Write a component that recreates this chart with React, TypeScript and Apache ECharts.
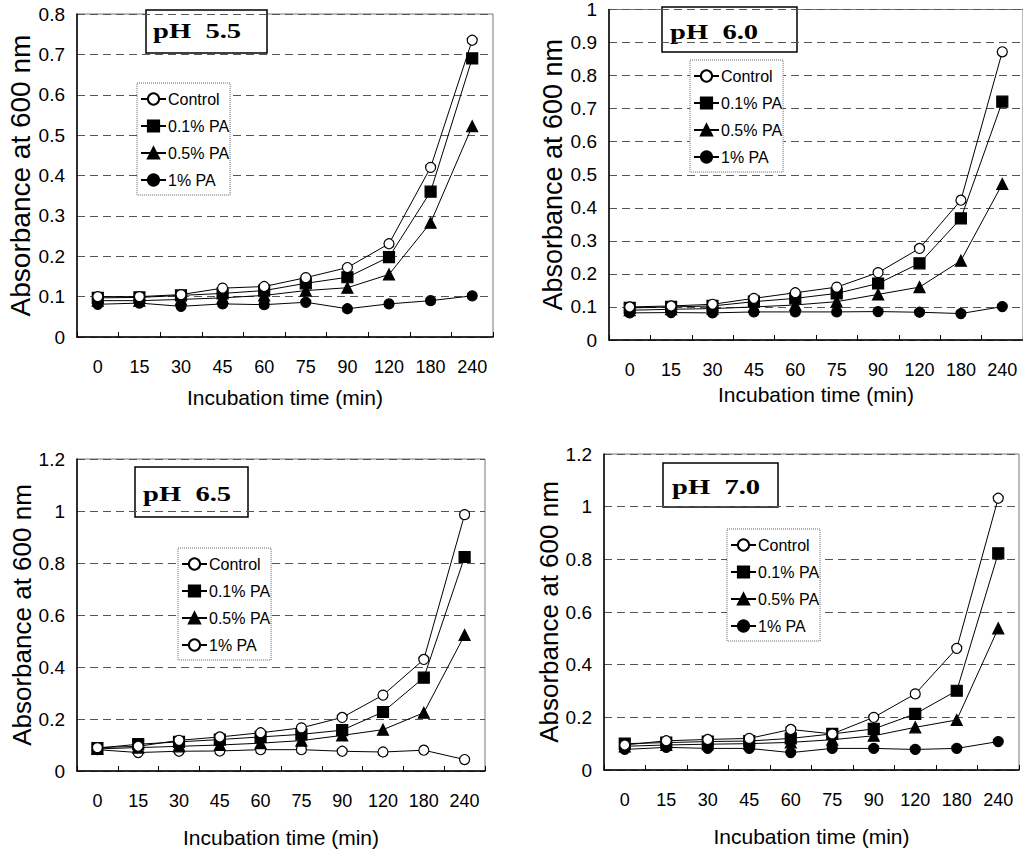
import React, { useEffect, useRef } from 'react';
import * as echarts from 'echarts';

const categories = ['0', '15', '30', '45', '60', '75', '90', '120', '180', '240'];
const seriesLabels = ['Control', '0.1% PA', '0.5% PA', '1% PA'];
const panelTitles = ['pH  5.5', 'pH  6.0', 'pH  6.5', 'pH  7.0'];
const yMax = [0.8, 1, 1.2, 1.2];
const yStep = [0.1, 0.1, 0.2, 0.2];

// pH 5.5
const ph55Control = [0.1, 0.1, 0.105, 0.121, 0.125, 0.147, 0.172, 0.231, 0.42, 0.735];
const ph55Pa01 = [0.097, 0.098, 0.103, 0.108, 0.115, 0.133, 0.148, 0.198, 0.36, 0.69];
const ph55Pa05 = [0.09, 0.09, 0.093, 0.097, 0.103, 0.115, 0.122, 0.155, 0.283, 0.522];
const ph55Pa1 = [0.081, 0.084, 0.076, 0.082, 0.08, 0.086, 0.07, 0.082, 0.09, 0.102];

// pH 6.0
const ph60Control = [0.1, 0.103, 0.108, 0.126, 0.143, 0.16, 0.204, 0.277, 0.423, 0.872];
const ph60Pa01 = [0.097, 0.1, 0.103, 0.116, 0.126, 0.141, 0.171, 0.232, 0.368, 0.721];
const ph60Pa05 = [0.09, 0.093, 0.095, 0.1, 0.106, 0.116, 0.138, 0.16, 0.24, 0.472];
const ph60Pa1 = [0.082, 0.083, 0.082, 0.085, 0.085, 0.085, 0.086, 0.084, 0.08, 0.101];

// pH 6.5
const ph65Control = [0.09, 0.095, 0.118, 0.131, 0.147, 0.166, 0.206, 0.292, 0.429, 0.986];
const ph65Pa01 = [0.088, 0.103, 0.112, 0.121, 0.131, 0.141, 0.157, 0.227, 0.359, 0.823];
const ph65Pa05 = [0.085, 0.09, 0.095, 0.1, 0.107, 0.117, 0.137, 0.159, 0.224, 0.523];
const ph65Pa1 = [0.082, 0.071, 0.076, 0.077, 0.082, 0.082, 0.076, 0.073, 0.08, 0.044];

// pH 7.0
const ph70Control = [0.095, 0.111, 0.116, 0.12, 0.154, 0.137, 0.2, 0.289, 0.462, 1.032];
const ph70Pa01 = [0.1, 0.104, 0.108, 0.11, 0.12, 0.137, 0.156, 0.213, 0.301, 0.823];
const ph70Pa05 = [0.09, 0.095, 0.098, 0.1, 0.105, 0.115, 0.13, 0.162, 0.19, 0.538];
const ph70Pa1 = [0.078, 0.086, 0.082, 0.082, 0.066, 0.082, 0.082, 0.078, 0.082, 0.108];

const panelData = [
  [ph55Control, ph55Pa01, ph55Pa05, ph55Pa1],
  [ph60Control, ph60Pa01, ph60Pa05, ph60Pa1],
  [ph65Control, ph65Pa01, ph65Pa05, ph65Pa1],
  [ph70Control, ph70Pa01, ph70Pa05, ph70Pa1],
];

// layout
const grids = [
  { left: 77, top: 14, width: 416, height: 323 },
  { left: 609, top: 9, width: 414, height: 331 },
  { left: 77, top: 459, width: 408, height: 312 },
  { left: 604, top: 454, width: 415, height: 316 },
];
const xNameGap = [50, 44, 56, 56];
const yNameGap = [41, 43, 42, 42];
const yNameSize = [28, 27, 26, 26];
const legendPos = [
  { left: 137, top: 83 },
  { left: 690, top: 60 },
  { left: 178, top: 548 },
  { left: 727, top: 529 },
];
const titleBoxes = [
  { x: 146, y: 10, w: 121, h: 43, tx: 153, ty: 31 },
  { x: 662, y: 7, w: 135, h: 45, tx: 670, ty: 32 },
  { x: 135, y: 467, w: 113, h: 50, tx: 143, ty: 494 },
  { x: 663, y: 463, w: 115, h: 44, tx: 672, ty: 487 },
];

const FONT = '"Liberation Sans", Arial, sans-serif';

function symbolFor(s: number, panel: number) {
  if (s === 0) return { symbol: 'circle', size: 10, fill: '#fff' };
  if (s === 1) return { symbol: 'rect', size: 11, fill: '#000' };
  if (s === 2) return { symbol: 'triangle', size: 11, fill: '#000' };
  return { symbol: 'circle', size: 10, fill: panel === 2 ? '#fff' : '#000' };
}

function buildOption() {
  const series: any[] = [];
  const legends: any[] = [];
  const xAxes: any[] = [];
  const yAxes: any[] = [];
  const graphics: any[] = [];

  grids.forEach((g, p) => {
    xAxes.push({
      type: 'category',
      gridIndex: p,
      data: categories,
      boundaryGap: true,
      name: 'Incubation time (min)',
      nameLocation: 'middle',
      nameGap: xNameGap[p],
      nameTextStyle: { fontFamily: FONT, fontSize: 21, color: '#000' },
      axisLine: { lineStyle: { color: '#000', width: 1.5 } },
      axisTick: { show: true, inside: true, length: 5, lineStyle: { color: '#000' } },
      axisLabel: { fontFamily: FONT, fontSize: 18, color: '#000', margin: 21, interval: 0 },
      splitLine: { show: false },
    });
    yAxes.push({
      type: 'value',
      gridIndex: p,
      min: 0,
      max: yMax[p],
      interval: yStep[p],
      name: 'Absorbance at 600 nm',
      nameLocation: 'middle',
      nameGap: yNameGap[p],
      nameTextStyle: { fontFamily: FONT, fontSize: yNameSize[p], color: '#000' },
      axisLine: { show: true, lineStyle: { color: '#000', width: 1.5 } },
      axisTick: { show: false },
      axisLabel: { fontFamily: FONT, fontSize: 19, color: '#000', margin: 12 },
      splitLine: { show: true, lineStyle: { color: '#555', type: [8, 5], width: 1 } },
    });
    const names: string[] = [];
    for (let s = 3; s >= 0; s--) {
      const st = symbolFor(s, p);
      const nm = seriesLabels[s] + '#' + p;
      series.push({
        type: 'line',
        name: nm,
        xAxisIndex: p,
        yAxisIndex: p,
        data: panelData[p][s],
        symbol: st.symbol,
        symbolSize: st.size,
        showAllSymbol: true,
        lineStyle: { color: '#000', width: 1 },
        itemStyle: { color: st.fill, borderColor: '#000', borderWidth: 1.2 },
        emphasis: { disabled: true },
      });
    }
    for (let s = 0; s < 4; s++) names.push(seriesLabels[s] + '#' + p);
    legends.push({
      data: names,
      orient: 'vertical',
      left: legendPos[p].left,
      top: legendPos[p].top,
      itemWidth: 25,
      itemHeight: 14,
      itemGap: 11,
      padding: [8, 1, 7, 3],
      backgroundColor: '#fff',
      borderColor: '#666',
      borderWidth: 1,
      borderType: 'dotted',
      selectedMode: false,
      formatter: (name: string) => name.split('#')[0],
      textStyle: { fontFamily: FONT, fontSize: 16, color: '#000', padding: [0, 0, 0, -3] },
    });
    const tb = titleBoxes[p];
    graphics.push({
      type: 'group',
      x: tb.x,
      y: tb.y,
      z: 20,
      children: [
        {
          type: 'rect',
          shape: { x: 0, y: 0, width: tb.w, height: tb.h },
          style: { fill: '#fff', stroke: '#000', lineWidth: 1.5 },
        },
        {
          type: 'text',
          x: tb.tx - tb.x,
          y: tb.ty - tb.y,
          scaleX: 1.3,
          style: {
            text: panelTitles[p],
            font: 'bold 22px "Liberation Serif", "Times New Roman", serif',
            fill: '#000',
            align: 'left',
            verticalAlign: 'middle',
          },
        },
      ],
    });
  });

  return {
    animation: false,
    backgroundColor: '#fff',
    grid: grids.map((g) => ({ ...g, show: true, borderColor: '#777', borderWidth: 1, backgroundColor: 'transparent' })),
    xAxis: xAxes,
    yAxis: yAxes,
    legend: legends,
    series,
    graphic: graphics,
  };
}

export default function App() {
  const ref = useRef<HTMLDivElement>(null);
  useEffect(() => {
    const chart = echarts.init(ref.current as HTMLDivElement, null, { renderer: 'svg' });
    chart.setOption(buildOption() as any);
    return () => chart.dispose();
  }, []);
  return (
    <div
      ref={ref}
      style={{ position: 'fixed', left: 0, top: 0, width: 1023, height: 852, background: '#fff' }}
    />
  );
}
